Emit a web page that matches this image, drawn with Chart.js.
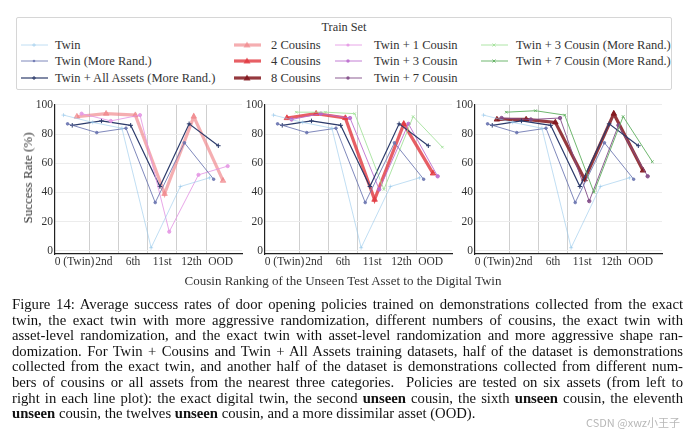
<!DOCTYPE html>
<html>
<head>
<meta charset="utf-8">
<script src="https://cdn.jsdelivr.net/npm/chart.js@4.4.1/dist/chart.umd.min.js"></script>
<style>
  body { margin: 0; width: 686px; height: 436px; background: #fff; position: relative; overflow: hidden;
         font-family: "Liberation Serif", "DejaVu Serif", serif; color: #222; }
  canvas { position: absolute; }
  #legend { position: absolute; left: 16px; top: 17px; width: 656px; height: 73px;
            border: 1px solid #d6d6d6; border-radius: 2px; box-sizing: border-box; }
  #legend .title { position: absolute; left: 0; width: 100%; top: 2px; text-align: center; font-size: 12.3px; color: #333;
                   font-family: "Liberation Serif", serif; }
  .item { position: absolute; font-size: 12.5px; color: #333; white-space: nowrap; line-height: 12px;
          font-family: "Liberation Serif", serif; }
  .item svg { position: absolute; top: 1px; }
  .xtitle { position: absolute; left: 0; width: 686px; top: 273px; text-align: center; font-size: 13px; color: #333; }
  .ytitle { position: absolute; left: 28px; top: 178px; transform: translate(-50%, -50%) rotate(-90deg);
            font-size: 13px; color: #333; white-space: nowrap; }
  #caption { position: absolute; left: 12px; top: 297px; width: 671px; font-size: 14.7px; line-height: 15.6px; color: #111; }
  #caption div { white-space: nowrap; text-align: justify; text-align-last: justify; }
  #caption div.last { text-align-last: left; }
  .mark { position: absolute; right: 6px; top: 414px; font-family: "Noto Sans CJK SC", "Noto Sans", sans-serif;
          font-size: 11px; color: #b8b8b8; }
</style>
</head>
<body>
<div id="legend"><div class="title">Train Set</div></div>
<canvas id="c1" width="222" height="180"></canvas>
<canvas id="c2" width="222" height="180"></canvas>
<canvas id="c3" width="222" height="180"></canvas>
<div class="ytitle">Success Rate (%)</div>
<div class="xtitle">Cousin Ranking of the Unseen Test Asset to the Digital Twin</div>
<div id="caption">
  <div>Figure 14: Average success rates of door opening policies trained on demonstrations collected from the exact</div>
  <div>twin, the exact twin with more aggressive randomization, different numbers of cousins, the exact twin with</div>
  <div>asset-level randomization, and the exact twin with asset-level randomization and more aggressive shape ran-</div>
  <div>domization. For Twin + Cousins and Twin + All Assets training datasets, half of the dataset is demonstrations</div>
  <div>collected from the exact twin, and another half of the dataset is demonstrations collected from different num-</div>
  <div>bers of cousins or all assets from the nearest three categories.&nbsp; Policies are tested on six assets (from left to</div>
  <div>right in each line plot): the exact digital twin, the second <b>unseen</b> cousin, the sixth <b>unseen</b> cousin, the eleventh</div>
  <div class="last"><b>unseen</b> cousin, the twelves <b>unseen</b> cousin, and a more dissimilar asset (OOD).</div>
</div>
<div class="mark">CSDN @xwz小王子</div>
<script>
// test assets, left to right
const categories = ['0 (Twin)', '2nd', '6th', '11st', '12th', 'OOD'];
const yTicks = [0, 20, 40, 60, 80, 100];

// success rates (%)
const twin = [93, 88, 84, 2, 44, 50];
const twinMoreRand = [87, 81, 84, 33, 74, 49];
const twinAllAssets = [86, 89, 86, 44, 87, 72];
const cousins2 = [92, 94, 93, 39, 92, 48];
const cousins4 = [91, 94, 91, 35, 87, 53];
const cousins8 = [90, 90, 88, 49, 94, 55];
const twin1Cousin = [94, 89, 93, 13, 52, 58];
const twin3Cousin = [90, 94, 91, 42, 87, 51];
const twin7Cousin = [91, 90, 91, 34, 86, 51];
const twin3CousinMoreRand = [95, 95, 94, 42, 92, 71];
const twin7CousinMoreRand = [95, 96, 93, 40, 92, 61];

const S = {
  twin:   { label: 'Twin', data: twin, color: 'rgba(150,200,235,0.6)', w: 1, pt: 'cross', r: 2, dx: -0.38 },
  twinMR: { label: 'Twin (More Rand.)', data: twinMoreRand, color: 'rgba(105,115,175,0.85)', w: 1, pt: 'circle', r: 1.3, dx: -0.24 },
  twinAll:{ label: 'Twin + All Assets (More Rand.)', data: twinAllAssets, color: '#2c3b6b', w: 1.2, pt: 'cross', r: 2.3, dx: -0.08 },
  c2:     { label: '2 Cousins', data: cousins2, color: 'rgba(240,130,135,0.65)', w: 3.2, pt: 'triangle', r: 3.2, dx: 0.08 },
  c4:     { label: '4 Cousins', data: cousins4, color: 'rgba(225,55,62,0.8)', w: 3.2, pt: 'triangle', r: 3.2, dx: 0.08 },
  c8:     { label: '8 Cousins', data: cousins8, color: 'rgba(130,22,28,0.85)', w: 3.2, pt: 'triangle', r: 3.2, dx: 0.08 },
  t1:     { label: 'Twin + 1 Cousin', data: twin1Cousin, color: 'rgba(228,150,228,0.85)', w: 1, pt: 'circle', r: 1.6, dx: 0.24 },
  t3:     { label: 'Twin + 3 Cousin', data: twin3Cousin, color: 'rgba(185,105,205,0.85)', w: 1, pt: 'circle', r: 1.7, dx: 0.24 },
  t7:     { label: 'Twin + 7 Cousin', data: twin7Cousin, color: 'rgba(130,75,135,0.9)', w: 1, pt: 'circle', r: 1.7, dx: 0.24 },
  t3mr:   { label: 'Twin + 3 Cousin (More Rand.)', data: twin3CousinMoreRand, color: 'rgba(160,225,150,0.85)', w: 1, pt: 'crossRot', r: 1.8, dx: 0.4 },
  t7mr:   { label: 'Twin + 7 Cousin (More Rand.)', data: twin7CousinMoreRand, color: 'rgba(95,175,95,0.9)', w: 1, pt: 'crossRot', r: 1.8, dx: 0.4 }
};

function ds(s, order) {
  return {
    label: s.label,
    data: s.data.map((v, i) => ({ x: i + s.dx, y: v })),
    borderColor: s.color, backgroundColor: s.color,
    borderWidth: s.w, pointStyle: s.pt, pointRadius: s.r, pointBorderWidth: 1,
    pointBorderColor: s.color, pointBackgroundColor: s.color,
    tension: 0, fill: false, order: order
  };
}

const font = { family: '"Liberation Serif", "DejaVu Serif", serif', size: 11.5 };
const xTicks = [];
for (let i = 0; i <= 10; i++) xTicks.push(i / 2);

function makeChart(id, left, keys) {
  const el = document.getElementById(id);
  el.style.left = (left - 30) + 'px';
  el.style.top = '96px';
  new Chart(el, {
    type: 'line',
    data: { datasets: keys.map((k, i) => ds(S[k], keys.length - i)) },
    options: {
      responsive: false, animation: false,
      layout: { padding: { top: 8, right: 2, left: 0, bottom: 0 } },
      plugins: { legend: { display: false }, tooltip: { enabled: false } },
      scales: {
        x: {
          type: 'linear', min: -0.67, max: 5.73,
          afterBuildTicks: sc => { sc.ticks = xTicks.map(v => ({ value: v })); },
          afterFit: sc => { sc.height = 22; },
          ticks: {
            autoSkip: false, maxRotation: 0, padding: 1, color: '#333', font: font,
            callback: v => Number.isInteger(v) ? categories[v] : ''
          },
          grid: { drawTicks: false, color: c => Number.isInteger(c.tick.value) ? 'rgba(0,0,0,0)' : '#cfcfcf', lineWidth: 1 },
          border: { color: '#222', width: 1.2 }
        },
        y: {
          min: -2.3, max: 100,
          afterBuildTicks: sc => { sc.ticks = yTicks.map(v => ({ value: v })); },
          afterFit: sc => { sc.width = 30; },
          ticks: { padding: 2, color: '#333', font: font },
          grid: { drawTicks: false, color: '#ececec', lineWidth: 1 },
          border: { color: '#222', width: 1.2 }
        }
      }
    }
  });
}

// draw order: thick cousin line on top
makeChart('c1', 55, ['c2', 'twinAll', 't1', 'twinMR', 'twin']);
makeChart('c2', 265, ['c4', 't3', 'twinAll', 't3mr', 'twinMR', 'twin']);
makeChart('c3', 475, ['c8', 't7', 'twinAll', 't7mr', 'twinMR', 'twin']);

// legend
const cols = [
  { line: 4, text: 38, keys: ['twin', 'twinMR', 'twinAll'] },
  { line: 217, text: 254, keys: ['c2', 'c4', 'c8'] },
  { line: 318, text: 357, keys: ['t1', 't3', 't7'] },
  { line: 464, text: 499, keys: ['t3mr', 't7mr'] }
];
const rowsY = [26.5, 43, 59.5];
const leg = document.getElementById('legend');
function marker(s) {
  const c = s.color, cx = 13, cy = 5;
  if (s.pt === 'triangle') return `<polygon points="${cx},${cy - 3.5} ${cx - 3.5},${cy + 2.5} ${cx + 3.5},${cy + 2.5}" fill="${c}"/>`;
  if (s.pt === 'circle') return `<circle cx="${cx}" cy="${cy}" r="${s.r}" fill="${c}"/>`;
  if (s.pt === 'cross') return `<path d="M${cx - 2} ${cy}H${cx + 2}M${cx} ${cy - 2}V${cy + 2}" stroke="${c}" stroke-width="1"/>`;
  return `<path d="M${cx - 1.5} ${cy - 1.5}L${cx + 1.5} ${cy + 1.5}M${cx + 1.5} ${cy - 1.5}L${cx - 1.5} ${cy + 1.5}" stroke="${c}" stroke-width="1"/>`;
}
cols.forEach(col => {
  col.keys.forEach((k, r) => {
    const s = S[k];
    const d = document.createElement('div');
    d.className = 'item';
    d.style.left = col.line + 'px';
    d.style.top = (rowsY[r] - 6) + 'px';
    d.innerHTML = `<svg width="27" height="10" style="left:0"><line x1="0" y1="5" x2="27" y2="5" stroke="${s.color}" stroke-width="${s.w}"/>${marker(s)}</svg>` +
      `<span style="position:absolute;left:${col.text - col.line}px;top:0">${s.label}</span>`;
    leg.appendChild(d);
  });
});
</script>
</body>
</html>
